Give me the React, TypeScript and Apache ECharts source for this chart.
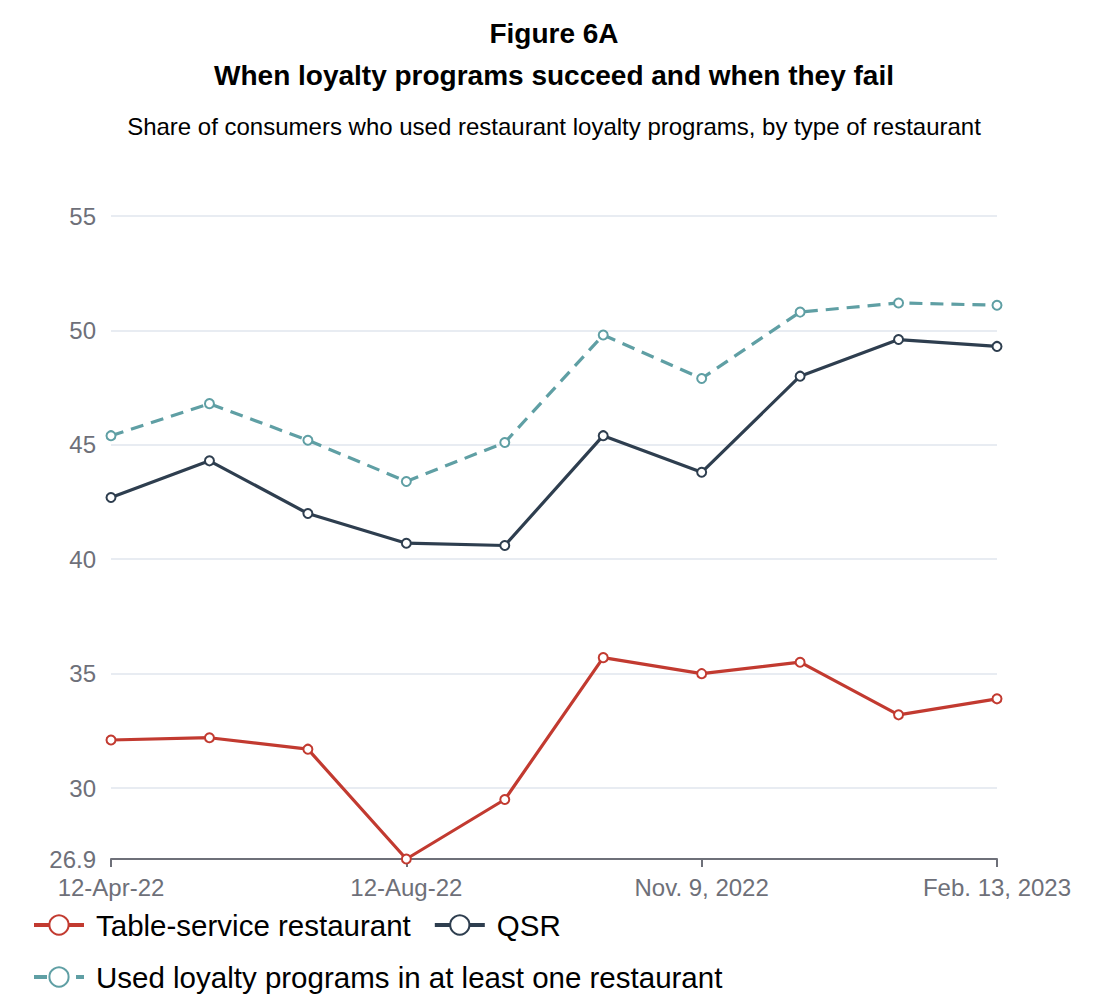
import React, { useEffect, useRef } from "react";
import * as echarts from "echarts";

const categories = [
  "12-Apr-22", "May-22", "Jul-22", "12-Aug-22", "Sep-22",
  "Oct-22", "Nov. 9, 2022", "Dec-22", "Jan-23", "Feb. 13, 2023",
];
const tableService = [32.1, 32.2, 31.7, 26.9, 29.5, 35.7, 35.0, 35.5, 33.2, 33.9];
const qsr = [42.7, 44.3, 42.0, 40.7, 40.6, 45.4, 43.8, 48.0, 49.6, 49.3];
const usedAny = [45.4, 46.8, 45.2, 43.4, 45.1, 49.8, 47.9, 50.8, 51.2, 51.1];
const yTicks = [26.9, 30, 35, 40, 45, 50, 55];

const FONT = "Helvetica, Arial, 'Liberation Sans', sans-serif";

export default function App() {
  const ref = useRef<HTMLDivElement>(null);
  useEffect(() => {
    document.body.style.margin = "0";
    if (!ref.current) return;
    const chart = echarts.init(ref.current, undefined, { renderer: "svg" });
    const mk = (name: string, data: number[], color: string, dashed = false) => ({
      name,
      type: "line",
      data,
      symbol: "emptyCircle",
      symbolSize: 9,
      showSymbol: true,
      lineStyle: { color, width: 3.2, type: dashed ? [13, 8] : "solid" },
      itemStyle: { color, borderColor: color, borderWidth: 3 },
      emphasis: { disabled: true },
    });
    chart.setOption({
      animation: false,
      textStyle: { fontFamily: FONT },
      title: [
        {
          text: "Figure 6A",
          left: "center",
          top: 14,
          textStyle: { fontSize: 28, fontWeight: "bold", color: "#000", fontFamily: FONT },
        },
        {
          text: "When loyalty programs succeed and when they fail",
          left: "center",
          top: 56,
          textStyle: { fontSize: 28, fontWeight: "bold", color: "#000", fontFamily: FONT },
        },
        {
          text: "Share of consumers who used restaurant loyalty programs, by type of restaurant",
          left: "center",
          top: 109,
          textStyle: { fontSize: 24, fontWeight: "normal", color: "#000", fontFamily: FONT },
        },
      ],
      legend: {
        left: 27,
        top: 905,
        width: 900,
        itemWidth: 50,
        itemHeight: 24,
        itemGap: 22,
        lineStyle: { width: 4 },
        itemStyle: { borderWidth: 3.5 },
        textStyle: { fontSize: 29.5, color: "#000", fontFamily: FONT, lineHeight: 29, padding: [0, 0, 0, 7] },
        data: ["Table-service restaurant", "QSR", "Used loyalty programs in at least one restaurant"],
      },
      grid: { left: 111, right: 111, top: 216, bottom: 141, containLabel: false },
      xAxis: {
        type: "category",
        data: categories,
        boundaryGap: false,
        axisLine: { lineStyle: { color: "#6e7079", width: 2 } },
        axisTick: { show: true, interval: 2, length: 8, lineStyle: { color: "#6e7079", width: 2 } },
        axisLabel: { interval: 2, fontSize: 24, color: "#6e7079", margin: 16, fontFamily: FONT },
        splitLine: { show: false },
      },
      yAxis: {
        type: "value",
        min: 26.9,
        max: 55,
        axisLine: { show: false },
        axisTick: { show: false, customValues: yTicks },
        axisLabel: { customValues: yTicks, fontSize: 24, color: "#6e7079", margin: 15, fontFamily: FONT },
        splitLine: { show: true, lineStyle: { color: "#e0e6ee", width: 1.5 } },
      },
      series: [
        mk("Table-service restaurant", tableService, "#c23a30"),
        mk("QSR", qsr, "#2e3e4f"),
        mk("Used loyalty programs in at least one restaurant", usedAny, "#5f9fa4", true),
      ],
    });
    return () => chart.dispose();
  }, []);
  return <div ref={ref} style={{ width: 1108, height: 1000 }} />;
}
